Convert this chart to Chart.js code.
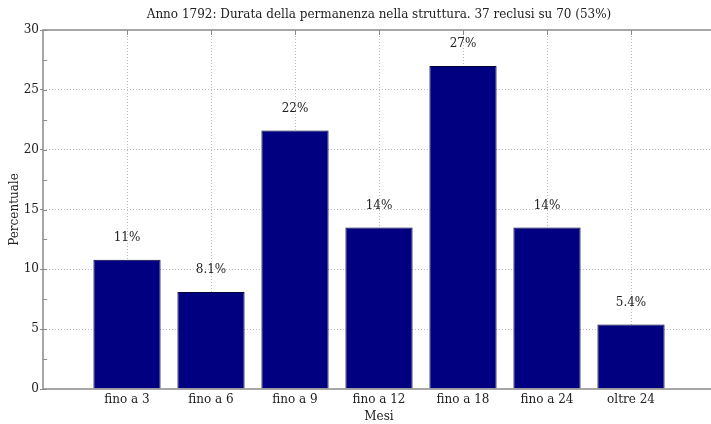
<!DOCTYPE html>
<html>
<head>
<meta charset="utf-8">
<script src="https://cdn.jsdelivr.net/npm/chart.js@4.4.0/dist/chart.umd.min.js"></script>
<style>
    html, body { margin: 0; padding: 0; overflow: hidden; background: #fff; }
    .wrap { position: relative; width: 711px; height: 424px; overflow: hidden; }
    canvas { position: absolute; left: 0; top: 0; display: block; }
</style>
</head>
<body>
<div class="wrap"><canvas id="chart" width="720" height="424"></canvas></div>
<script>
const categories = ['fino a 3', 'fino a 6', 'fino a 9', 'fino a 12', 'fino a 18', 'fino a 24', 'oltre 24'];
const percentuali = [10.8, 8.1, 21.6, 13.5, 27.0, 13.5, 5.4];
const etichette = ['11%', '8.1%', '22%', '14%', '27%', '14%', '5.4%'];
const yTicks = [0, 5, 10, 15, 20, 25, 30];
const yMinorTicks = [2.5, 7.5, 12.5, 17.5, 22.5, 27.5];
const titolo = 'Anno 1792: Durata della permanenza nella struttura. 37 reclusi su 70 (53%)';

const FONT = '"DejaVu Serif", "Liberation Serif", serif';
const SIZE = 12;
const AXIS = '#8a8a8a';

// titolo, cornice, tacche e percentuali sopra le barre
const decorations = {
    id: 'decorations',
    afterDraw(chart) {
        const ctx = chart.ctx;
        const a = chart.chartArea;
        const y = chart.scales.y;
        const x = chart.scales.x;
        ctx.save();

        // cornice: sinistra, alto, basso (il lato destro resta fuori dall'immagine)
        ctx.strokeStyle = AXIS;
        ctx.lineWidth = 1.5;
        ctx.beginPath();
        ctx.moveTo(chart.width, a.top);
        ctx.lineTo(a.left, a.top);
        ctx.lineTo(a.left, a.bottom);
        ctx.lineTo(chart.width, a.bottom);
        ctx.stroke();

        ctx.lineWidth = 1;
        yMinorTicks.concat(yTicks).forEach(v => {
            const py = Math.round(y.getPixelForValue(v)) + 0.5;
            ctx.beginPath();
            ctx.moveTo(a.left, py);
            ctx.lineTo(a.left + 4, py);
            ctx.stroke();
        });
        categories.forEach((c, i) => {
            const px = Math.round(x.getPixelForValue(i + 1)) + 0.5;
            ctx.beginPath();
            ctx.moveTo(px, a.top);
            ctx.lineTo(px, a.top + 5);
            ctx.stroke();
        });

        ctx.fillStyle = '#222';
        ctx.font = SIZE + 'px ' + FONT;
        ctx.textAlign = 'center';
        ctx.textBaseline = 'middle';
        ctx.fillText(titolo, (a.left + a.right) / 2, 15);

        const meta = chart.getDatasetMeta(0);
        meta.data.forEach((bar, i) => {
            ctx.fillText(etichette[i], bar.x, bar.y - 22);
        });
        ctx.restore();
    }
};

const gridColor = (lo, hi) => ctx => {
    const v = ctx.tick ? ctx.tick.value : lo;
    return (v > lo && v < hi) ? '#bdbdbd' : 'rgba(255,255,255,0)';
};

new Chart(document.getElementById('chart'), {
    type: 'bar',
    data: {
        datasets: [{
            data: percentuali.map((v, i) => ({ x: i + 1, y: v })),
            backgroundColor: '#000080',
            borderColor: '#000033',
            borderWidth: 1,
            barPercentage: 0.8,
            categoryPercentage: 1.0
        }]
    },
    options: {
        responsive: false,
        animation: false,
        layout: { padding: { top: 30, right: 5, left: 0, bottom: 0 } },
        plugins: { legend: { display: false }, tooltip: { enabled: false } },
        scales: {
            x: {
                type: 'linear',
                min: 0,
                max: 8,
                offset: false,
                afterFit(scale) { scale.height = 35; },
                afterBuildTicks(scale) {
                    scale.ticks = [1, 2, 3, 4, 5, 6, 7].map(v => ({ value: v }));
                },
                border: { display: false, dash: [1, 2] },
                grid: {
                    offset: false,
                    drawTicks: false,
                    color: gridColor(0, 8),
                    lineWidth: 1
                },
                ticks: {
                    padding: 4,
                    color: '#222',
                    font: { family: FONT, size: SIZE },
                    callback: v => categories[v - 1] || ''
                },
                title: {
                    display: true,
                    text: 'Mesi',
                    color: '#222',
                    font: { family: FONT, size: SIZE },
                    padding: { top: -2, bottom: 0 }
                }
            },
            y: {
                min: 0,
                max: 30,
                afterFit(scale) { scale.width = 43; },
                afterBuildTicks(scale) {
                    scale.ticks = yTicks.map(v => ({ value: v }));
                },
                border: { display: false, dash: [1, 2] },
                grid: {
                    color: gridColor(0, 30),
                    tickColor: AXIS,
                    tickLength: 3,
                    tickBorderDash: []
                },
                ticks: {
                    padding: 1,
                    color: '#222',
                    font: { family: FONT, size: SIZE }
                },
                title: {
                    display: true,
                    text: 'Percentuale',
                    color: '#222',
                    font: { family: FONT, size: SIZE },
                    padding: { top: 8, bottom: 0 }
                }
            }
        }
    },
    plugins: [decorations]
});
</script>
</body>
</html>
